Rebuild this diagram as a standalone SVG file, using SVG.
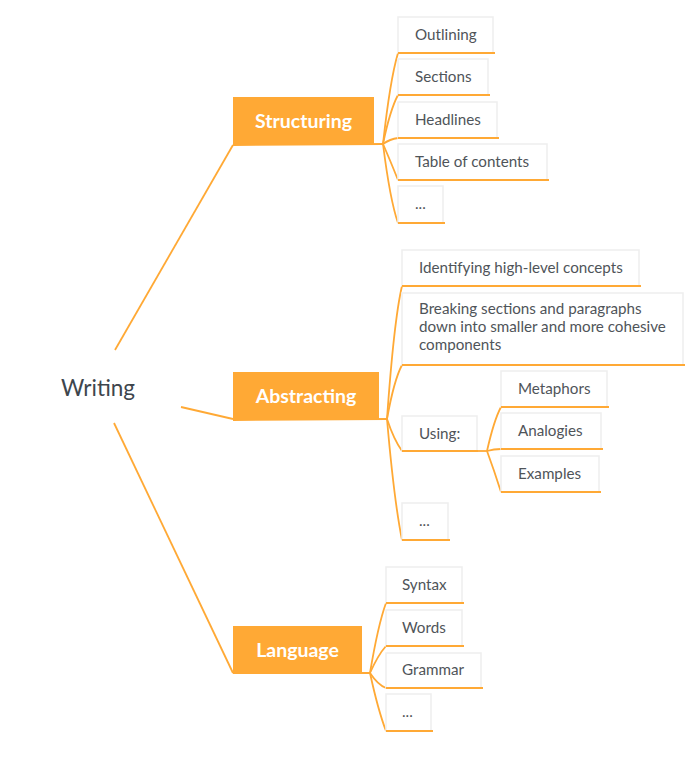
<svg xmlns="http://www.w3.org/2000/svg" width="700" height="773" viewBox="0 0 700 773">
<style>
.main rect{fill:#FFA935}
.main text{fill:#fff;font-family:Lato,"Open Sans",sans-serif;font-weight:bold;font-size:19.5px;text-anchor:middle}
.leaf rect{fill:#fff;stroke:#eeeeee;stroke-width:1.5}
.leaf text{fill:#4f5459;font-family:Lato,"Open Sans",sans-serif;font-size:15.2px}
.ul{stroke:#FFA935;stroke-width:1.8;fill:none}
#connectors path{stroke:#FFA935;stroke-width:1.8;fill:none}
</style>
<rect width="700" height="773" fill="#fff"/>
<g id="connectors">
<path d="M115 350 L233 145"/>
<path d="M181 407 L233 419"/>
<path d="M114 423 L233 673"/>
<path d="M233 145 L383 144"/>
<path d="M233 420 L387 419"/>
<path d="M233 673 L370 673"/>
<path d="M383 144 Q390 80 398 53"/>
<path d="M383 144 Q390 110 398 95"/>
<path d="M383 144 Q390 139 398 138"/>
<path d="M383 144 Q390 160 398 180"/>
<path d="M383 144 Q390 200 398 223"/>
<path d="M387 419 Q394 320 402 286"/>
<path d="M387 419 Q394 380 402 365"/>
<path d="M387 419 Q394 440 402 451"/>
<path d="M387 419 Q394 500 402 540"/>
<path d="M478 451 L487 451"/>
<path d="M487 451 Q494 420 501 407"/>
<path d="M487 451 Q494 449 501 449"/>
<path d="M487 451 Q494 470 501 492"/>
<path d="M370 673 Q378 625 386 603"/>
<path d="M370 673 Q378 655 386 646"/>
<path d="M370 673 Q378 685 386 688"/>
<path d="M370 673 Q378 710 386 731"/>
</g>
<g id="writing"><text x="61" y="396" font-family="Lato,'Open Sans',sans-serif" font-size="22.5" fill="#3e464d">Writing</text></g>
<g id="structuring" class="main"><rect x="233" y="97" width="141" height="48"/><text x="303.5" y="128">Structuring</text></g>
<g id="abstracting" class="main"><rect x="233" y="372" width="146" height="48"/><text x="306" y="403">Abstracting</text></g>
<g id="language" class="main"><rect x="233" y="626" width="129" height="47"/><text x="297.5" y="657">Language</text></g>

<g id="outlining" class="leaf"><rect x="398" y="17" width="95" height="36"/><path class="ul" d="M398 53 H495"/><text x="415" y="40">Outlining</text></g>
<g id="sections" class="leaf"><rect x="398" y="59" width="90" height="36"/><path class="ul" d="M398 95 H490"/><text x="415" y="82">Sections</text></g>
<g id="headlines" class="leaf"><rect x="398" y="102" width="99" height="36"/><path class="ul" d="M398 138 H499"/><text x="415" y="125">Headlines</text></g>
<g id="toc" class="leaf"><rect x="398" y="144" width="149" height="36"/><path class="ul" d="M398 180 H549"/><text x="415" y="167">Table of contents</text></g>
<g id="s-more" class="leaf"><rect x="398" y="186" width="45" height="37"/><path class="ul" d="M398 223 H445"/><text x="415" y="209">...</text></g>

<g id="identifying" class="leaf"><rect x="402" y="250" width="237" height="36"/><path class="ul" d="M402 286 H641"/><text x="419" y="273">Identifying high-level concepts</text></g>
<g id="breaking" class="leaf"><rect x="402" y="293" width="281" height="72"/><path class="ul" d="M402 365 H685"/><text x="419" y="314">Breaking sections and paragraphs</text><text x="419" y="332">down into smaller and more cohesive</text><text x="419" y="350">components</text></g>
<g id="using" class="leaf"><rect x="402" y="416" width="75" height="35"/><path class="ul" d="M402 451 H478"/><text x="419" y="439">Using:</text></g>
<g id="metaphors" class="leaf"><rect x="501" y="371" width="106" height="36"/><path class="ul" d="M501 407 H609"/><text x="518" y="394">Metaphors</text></g>
<g id="analogies" class="leaf"><rect x="501" y="413" width="100" height="36"/><path class="ul" d="M501 449 H603"/><text x="518" y="436">Analogies</text></g>
<g id="examples" class="leaf"><rect x="501" y="456" width="98" height="36"/><path class="ul" d="M501 492 H601"/><text x="518" y="479">Examples</text></g>
<g id="a-more" class="leaf"><rect x="402" y="503" width="46" height="37"/><path class="ul" d="M402 540 H450"/><text x="419" y="526">...</text></g>

<g id="syntax" class="leaf"><rect x="386" y="567" width="76" height="36"/><path class="ul" d="M386 603 H464"/><text x="402" y="590">Syntax</text></g>
<g id="words" class="leaf"><rect x="386" y="610" width="76" height="36"/><path class="ul" d="M386 646 H464"/><text x="402" y="633">Words</text></g>
<g id="grammar" class="leaf"><rect x="386" y="653" width="95" height="35"/><path class="ul" d="M386 688 H483"/><text x="402" y="675">Grammar</text></g>
<g id="l-more" class="leaf"><rect x="386" y="694" width="45" height="37"/><path class="ul" d="M386 731 H433"/><text x="402" y="717">...</text></g>
</svg>
